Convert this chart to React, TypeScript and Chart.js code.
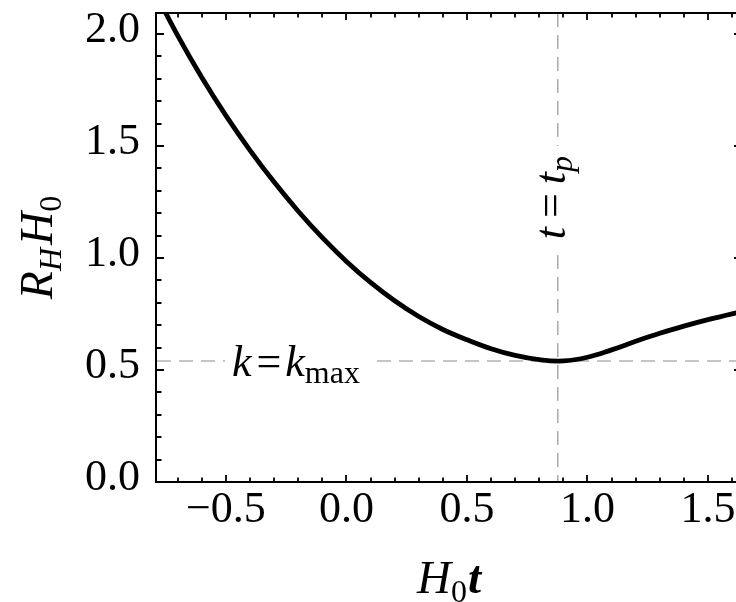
import React, { useEffect, useRef } from "react";
import { Chart, registerables } from "chart.js";

Chart.register(...registerables);

// ---- data ----
const timeValues = [-0.8, -0.7, -0.6, -0.5, -0.4, -0.3, -0.2, -0.1, 0.0, 0.1, 0.2, 0.3, 0.4, 0.5, 0.6, 0.7, 0.8, 0.9, 1.0, 1.1, 1.2, 1.3, 1.4, 1.5, 1.6, 1.7];
const rhValues = [2.199, 1.993, 1.806, 1.636, 1.481, 1.339, 1.209, 1.091, 0.985, 0.891, 0.809, 0.739, 0.681, 0.635, 0.595, 0.565, 0.546, 0.5405, 0.557, 0.59, 0.628, 0.664, 0.696, 0.725, 0.751, 0.775];
const tPeak = 0.877;
const kMaxLevel = 0.54;
const xRange = [-0.786, 1.637];
const yRange = [0, 2.094];
const tickStep = 0.5;
const minorStep = 0.1;

const SERIF = '"Liberation Serif", "Times New Roman", Times, serif';

type Run = { t: string; f: string; dy?: number; gap?: number };

function runsWidth(ctx: CanvasRenderingContext2D, runs: Run[]) {
  let w = 0;
  for (const r of runs) {
    ctx.font = r.f;
    w += ctx.measureText(r.t).width + (r.gap || 0);
  }
  return w;
}

function drawRuns(ctx: CanvasRenderingContext2D, runs: Run[], x: number, y: number) {
  let cx = x;
  ctx.textAlign = "left";
  ctx.textBaseline = "alphabetic";
  for (const r of runs) {
    ctx.font = r.f;
    ctx.fillText(r.t, cx, y + (r.dy || 0));
    cx += ctx.measureText(r.t).width + (r.gap || 0);
  }
}

const decorPlugin = {
  id: "decor",
  beforeDatasetsDraw(chart: any) {
    const { ctx, chartArea: a, scales } = chart;
    const xs = scales.x;
    const ys = scales.y;
    ctx.save();
    ctx.beginPath();
    ctx.rect(a.left, a.top, a.right - a.left, a.bottom - a.top);
    ctx.clip();
    ctx.strokeStyle = "rgb(140,140,140)";
    ctx.lineWidth = 1.1;
    ctx.setLineDash([14, 8]);
    const px = xs.getPixelForValue(tPeak);
    ctx.beginPath();
    ctx.moveTo(px, a.top);
    ctx.lineTo(px, a.bottom);
    ctx.stroke();
    const py = ys.getPixelForValue(kMaxLevel);
    ctx.beginPath();
    ctx.moveTo(a.left, py);
    ctx.lineTo(a.right, py);
    ctx.stroke();
    ctx.setLineDash([]);

    // k = k_max label
    const kRuns: Run[] = [
      { t: "k", f: `italic 44px ${SERIF}`, gap: 5 },
      { t: "=", f: `44px ${SERIF}`, gap: 4 },
      { t: "k", f: `italic 44px ${SERIF}`, gap: 0 },
      { t: "max", f: `32px ${SERIF}`, dy: 7 },
    ];
    const kx = xs.getPixelForValue(-0.475);
    const ky = ys.getPixelForValue(0.4746);
    const kw = runsWidth(ctx, kRuns);
    ctx.fillStyle = "white";
    ctx.fillRect(kx - 7, ky - 36, kw + 16, 50);
    ctx.fillStyle = "black";
    drawRuns(ctx, kRuns, kx, ky);

    // t = t_p label (rotated)
    const tRuns: Run[] = [
      { t: "t", f: `italic 44px ${SERIF}`, gap: 9 },
      { t: "=", f: `44px ${SERIF}`, gap: 9 },
      { t: "t", f: `italic 44px ${SERIF}`, gap: 0 },
      { t: "p", f: `italic 32px ${SERIF}`, dy: 7 },
    ];
    const tx = xs.getPixelForValue(0.907);
    const ty = ys.getPixelForValue(1.27);
    const tw = runsWidth(ctx, tRuns);
    ctx.translate(tx, ty);
    ctx.rotate(-Math.PI / 2);
    ctx.fillStyle = "white";
    ctx.fillRect(-tw / 2 - 10, -34, tw + 20, 52);
    ctx.fillStyle = "black";
    drawRuns(ctx, tRuns, -tw / 2, 0);
    ctx.restore();
  },
  afterDraw(chart: any) {
    const { ctx, chartArea: a, scales } = chart;
    const xs = scales.x;
    const ys = scales.y;
    ctx.save();
    ctx.strokeStyle = "black";
    ctx.lineCap = "butt";
    // frame
    ctx.lineWidth = 2;
    ctx.strokeRect(a.left - 1, a.top, a.right - a.left + 1, a.bottom - a.top);
    // ticks
    ctx.lineWidth = 1.8;
    const major = 7;
    const minor = 4.5;
    for (let k = Math.ceil(xRange[0] / minorStep); k <= Math.floor(xRange[1] / minorStep); k++) {
      const v = k * minorStep;
      const p = Math.round(xs.getPixelForValue(v));
      const len = k % 5 === 0 ? major : minor;
      ctx.beginPath();
      ctx.moveTo(p, a.bottom);
      ctx.lineTo(p, a.bottom - len);
      ctx.moveTo(p, a.top);
      ctx.lineTo(p, a.top + len);
      ctx.stroke();
    }
    for (let k = Math.ceil(yRange[0] / minorStep); k <= Math.floor(yRange[1] / minorStep); k++) {
      const v = k * minorStep;
      const p = Math.round(ys.getPixelForValue(v));
      const len = k % 5 === 0 ? major : minor;
      ctx.beginPath();
      ctx.moveTo(a.left, p);
      ctx.lineTo(a.left + len, p);
      ctx.moveTo(a.right, p);
      ctx.lineTo(a.right - len, p);
      ctx.stroke();
    }
    ctx.fillStyle = "black";
    // x title
    const xRuns: Run[] = [
      { t: "H", f: `italic 47px ${SERIF}` },
      { t: "0", f: `32px ${SERIF}`, dy: 9, gap: 1 },
      { t: "t", f: `italic bold 47px ${SERIF}` },
    ];
    const xw = runsWidth(ctx, xRuns);
    const cx = (a.left + a.right) / 2;
    drawRuns(ctx, xRuns, cx - xw / 2, 593);
    // y title (rotated)
    const yRuns: Run[] = [
      { t: "R", f: `italic 46px ${SERIF}` },
      { t: "H", f: `italic 32px ${SERIF}`, dy: 9, gap: 3 },
      { t: "H", f: `italic 46px ${SERIF}` },
      { t: "0", f: `32px ${SERIF}`, dy: 9 },
    ];
    const yw = runsWidth(ctx, yRuns);
    const cy = (a.top + a.bottom) / 2;
    ctx.translate(52, cy);
    ctx.rotate(-Math.PI / 2);
    drawRuns(ctx, yRuns, -yw / 2, 0);
    ctx.restore();
  },
};

function fmt(v: number) {
  const s = Math.abs(v).toFixed(1);
  return v < -1e-9 ? "\u2212" + s : s;
}

export default function App() {
  const ref = useRef<HTMLCanvasElement | null>(null);
  useEffect(() => {
    if (!ref.current) return;
    const points = timeValues.map((t, i) => ({ x: t, y: rhValues[i] }));
    const chart = new Chart(ref.current, {
      type: "line",
      data: {
        datasets: [
          {
            data: points,
            borderColor: "black",
            borderWidth: 4.8,
            pointRadius: 0,
            fill: false,
            tension: 0.4,
          },
        ],
      },
      options: {
        animation: false,
        responsive: false,
        devicePixelRatio: 1,
        events: [],
        layout: { padding: { left: 0, top: 13, right: 4, bottom: 0 } },
        plugins: { legend: { display: false }, tooltip: { enabled: false }, title: { display: false } },
        scales: {
          x: {
            type: "linear",
            position: "bottom",
            min: xRange[0],
            max: xRange[1],
            grid: { display: false, drawTicks: false },
            border: { display: false },
            ticks: {
              stepSize: tickStep,
              includeBounds: false,
              autoSkip: false,
              maxRotation: 0,
              padding: 2,
              color: "black",
              font: { family: SERIF, size: 44 },
              callback: (v: any) => fmt(Number(v)),
            },
            afterFit: (s: any) => {
              s.height = 120;
              s.paddingLeft = 0;
              s.paddingRight = 0;
            },
          },
          y: {
            type: "linear",
            min: yRange[0],
            max: yRange[1],
            grid: { display: false, drawTicks: false },
            border: { display: false },
            ticks: {
              stepSize: tickStep,
              includeBounds: false,
              autoSkip: false,
              padding: 17,
              labelOffset: -4,
              color: "black",
              font: { family: SERIF, size: 44 },
              callback: (v: any) => fmt(Number(v)),
            },
            afterFit: (s: any) => {
              s.width = 157;
              s.paddingTop = 0;
              s.paddingBottom = 0;
            },
          },
        },
      },
      plugins: [decorPlugin],
    } as any);
    return () => chart.destroy();
  }, []);
  return (
    <div style={{ position: "fixed", left: 0, top: 0, width: 736, height: 602, overflow: "hidden", background: "white" }}>
      <canvas ref={ref} width={745} height={602} style={{ display: "block" }} />
    </div>
  );
}
